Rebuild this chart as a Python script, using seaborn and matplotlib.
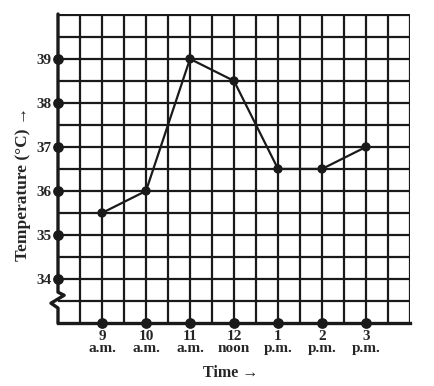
import matplotlib
matplotlib.use("Agg")
import matplotlib.pyplot as plt
import numpy as np
import pandas as pd
import seaborn as sns

# data
times = ["9\na.m.", "10\na.m.", "11\na.m.", "12\nnoon", "1\np.m.", "2\np.m.", "3\np.m."]
temps = [35.5, 36, 39, 38.5, 36.5, 36.5, 37]
y_ticks = [34, 35, 36, 37, 38, 39]

sns.set_style("white")
plt.rcParams['font.family'] = ['Liberation Serif', 'DejaVu Serif']
plt.rcParams['font.weight'] = 'bold'

df = pd.DataFrame({"pos": np.arange(len(times)), "temp": temps})
ink = "#1a1a1a"

fig = plt.figure(figsize=(4.35, 3.86), dpi=100)
ax = fig.add_axes([58 / 435, 63 / 386, 352 / 435, 309 / 386])

x0, x1 = -1, 7
y0, y1 = 33, 40.02
ax.set_xlim(x0, x1)
ax.set_ylim(y0, y1)

# graph paper grid
for gx in np.arange(x0 + 0.5, x1 + 0.01, 0.5):
    ax.axvline(gx, color=ink, lw=1.6, zorder=1)
for gy in np.arange(y0 + 0.5, y1, 0.5):
    ax.axhline(gy, color=ink, lw=1.6, zorder=1)

sns.lineplot(data=df, x="pos", y="temp", ax=ax, color=ink, lw=1.6, zorder=3)
sns.scatterplot(data=df, x="pos", y="temp", ax=ax, color=ink, s=45,
                edgecolor="none", zorder=4)

# dots on the axes
ax.scatter(df["pos"], [y0] * len(times), s=45, color=ink, zorder=5, clip_on=False)
ax.scatter([x0] * len(y_ticks), y_ticks, s=45, color=ink, zorder=5, clip_on=False)

for s in ["left", "right", "top", "bottom"]:
    ax.spines[s].set_visible(False)
ax.plot([x0, x1], [y0, y0], color=ink, lw=2.4, clip_on=False, zorder=4,
        solid_capstyle="projecting")
# left axis with break
zx = [x0, x0, x0 + 0.14, x0 - 0.16, x0, x0]
zy = [y1, 33.7, 33.63, 33.45, 33.34, y0]
ax.plot(zx, zy, color=ink, lw=2.4, clip_on=False, zorder=4)

ax.set_xticks(df["pos"])
ax.set_xticklabels(times, fontsize=11, fontweight="bold", linespacing=0.95)
ax.set_yticks(y_ticks)
ax.set_yticklabels([str(t) for t in y_ticks], fontsize=11, fontweight="bold")
ax.tick_params(axis="both", length=0)
ax.tick_params(axis="y", pad=4.5)
ax.tick_params(axis="x", pad=5)

ax.set_xlabel("Time →", fontsize=11.5, fontweight="bold", va="center")
ax.set_ylabel("Temperature (°C) →", fontsize=12.5, fontweight="bold", va="center")
ax.xaxis.set_label_coords(0.491, -0.162)
ax.yaxis.set_label_coords(-0.099, 0.45)

fig.savefig("out.png", dpi=100)
